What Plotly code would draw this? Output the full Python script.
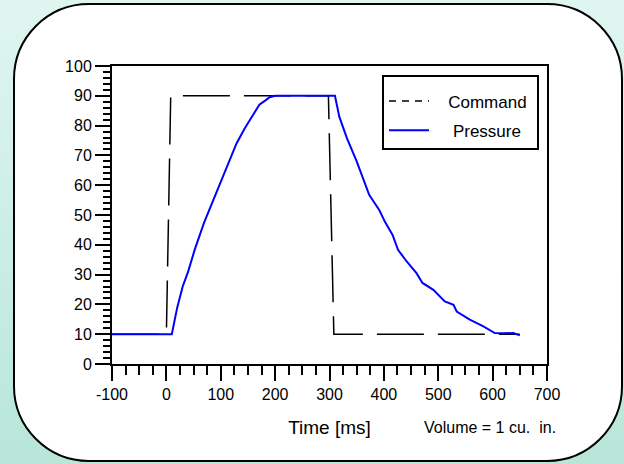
import plotly.graph_objects as go

# ---- data ----
command_t = [-100, 0, 8, 298, 308, 650]
command_p = [10, 10, 90, 90, 10, 10]

pressure_t = [-100, 10, 20, 30, 40, 46, 52, 69, 86, 104, 129, 144, 160, 171, 181, 190, 200,
              250, 310, 318, 332, 350, 373, 392, 402, 416, 426, 442, 460, 471, 491, 512,
              528, 534, 558, 583, 604, 620, 638, 650]
pressure_p = [10, 10, 19, 26, 31, 35, 38.3, 47.3, 55, 62.9, 74, 79, 83.5, 87, 88.3, 89.5, 90,
              90, 90, 83, 75.8, 68, 56.8, 51.5, 47.7, 43.3, 38.3, 34.4, 30.5, 27.2, 24.9, 21,
              19.9, 17.6, 14.9, 12.6, 10.4, 10.3, 10.4, 9.6]

x_ticks = [-100, 0, 100, 200, 300, 400, 500, 600, 700]
y_ticks = [0, 10, 20, 30, 40, 50, 60, 70, 80, 90, 100]

# ---- layout geometry (pixels) ----
W, H = 624, 464
L, R, T, B = 112, 547, 66, 364


def px(x):
    return (x - L) / (R - L)


def py(y):
    return (B - y) / (B - T)


FONT = "Liberation Sans, Arial, sans-serif"
NB = "\u00a0"

fig = go.Figure()

fig.add_trace(go.Scatter(x=command_t, y=command_p, mode="lines",
                         line=dict(color="black", width=1.5, dash="47px,14px"),
                         showlegend=False, hoverinfo="skip"))
fig.add_trace(go.Scatter(x=pressure_t, y=pressure_p, mode="lines",
                         line=dict(color="#0000ff", width=2),
                         showlegend=False))
# legend entries
fig.add_trace(go.Scatter(x=[None], y=[None], mode="lines", name=NB * 3 + "Command" + NB,
                         legendgroup="a",
                         line=dict(color="black", width=1.5, dash="7px,6px")))
fig.add_trace(go.Scatter(x=[None], y=[None], mode="lines", name=NB * 4 + "Pressure",
                         legendgroup="b",
                         line=dict(color="#0000ff", width=2)))

# ---- background gradient + rounded box ----
shapes = []
top_c = (0xE0, 0xF6, 0xF0)
bot_c = (0xB8, 0xE6, 0xD9)
n = 24
for i in range(n):
    f = (i + 0.5) / n
    c = tuple(round(top_c[k] + (bot_c[k] - top_c[k]) * f) for k in range(3))
    y0 = H * i / n
    y1 = H * (i + 1) / n + 1
    shapes.append(dict(type="rect", xref="paper", yref="paper",
                       x0=px(-2), x1=px(W + 2), y0=py(y0), y1=py(y1),
                       line=dict(width=0), fillcolor="rgb(%d,%d,%d)" % c,
                       layer="below"))

bx0, bx1, by0, by1, r = 14, 622, 4, 461, 75
k = 0.5523 * r


def P(x, y):
    return "%.5f,%.5f" % (px(x), py(y))


path = ("M " + P(bx0 + r, by0) + " L " + P(bx1 - r, by0) +
        " C " + P(bx1 - r + k, by0) + " " + P(bx1, by0 + r - k) + " " + P(bx1, by0 + r) +
        " L " + P(bx1, by1 - r) +
        " C " + P(bx1, by1 - r + k) + " " + P(bx1 - r + k, by1) + " " + P(bx1 - r, by1) +
        " L " + P(bx0 + r, by1) +
        " C " + P(bx0 + r - k, by1) + " " + P(bx0, by1 - r + k) + " " + P(bx0, by1 - r) +
        " L " + P(bx0, by0 + r) +
        " C " + P(bx0, by0 + r - k) + " " + P(bx0 + r - k, by0) + " " + P(bx0 + r, by0) + " Z")
shapes.append(dict(type="path", xref="paper", yref="paper", path=path,
                   fillcolor="white", line=dict(color="black", width=2),
                   layer="below"))

fig.update_layout(
    width=W, height=H,
    margin=dict(l=L, r=W - R, t=T, b=H - B, pad=0),
    paper_bgcolor="#e0f6f0",
    plot_bgcolor="rgba(0,0,0,0)",
    font=dict(family=FONT, size=16, color="black"),
    shapes=shapes,
    showlegend=True,
    legend=dict(x=px(382), y=py(75), xanchor="left", yanchor="top",
                bgcolor="white", bordercolor="black", borderwidth=2,
                font=dict(size=17), traceorder="grouped", tracegroupgap=4,
                itemwidth=40,
                title=dict(text=NB, font=dict(size=5))),
    annotations=[dict(text="Volume = 1 cu." + NB + " in.", xref="paper", yref="paper",
                      x=px(490), y=py(427), xanchor="center", yanchor="middle",
                      showarrow=False, font=dict(size=16))],
)

fig.update_xaxes(range=[-100, 700], tickvals=x_ticks, ticktext=[str(v) for v in x_ticks],
                 showgrid=False, zeroline=False, showline=True, linecolor="black",
                 linewidth=2, mirror=True, ticks="outside", ticklen=15, tickwidth=2,
                 tickcolor="black",
                 minor=dict(dtick=25, tick0=0, ticks="outside", ticklen=9, tickwidth=1.5,
                            tickcolor="black", showgrid=False),
                 title=dict(text="Time [ms]", font=dict(size=19), standoff=18))
fig.update_yaxes(range=[0, 100], tickvals=y_ticks, ticktext=[str(v) for v in y_ticks],
                 showgrid=False, zeroline=False, showline=True, linecolor="black",
                 linewidth=2, mirror=True, ticks="outside", ticklen=15, tickwidth=2,
                 tickcolor="black",
                 minor=dict(dtick=2, tick0=0, ticks="outside", ticklen=7, tickwidth=1.5,
                            tickcolor="black", showgrid=False))

fig.write_html("out.html", config={"displayModeBar": False},
               post_script="document.body.style.margin='0';document.body.style.overflow='hidden';")
